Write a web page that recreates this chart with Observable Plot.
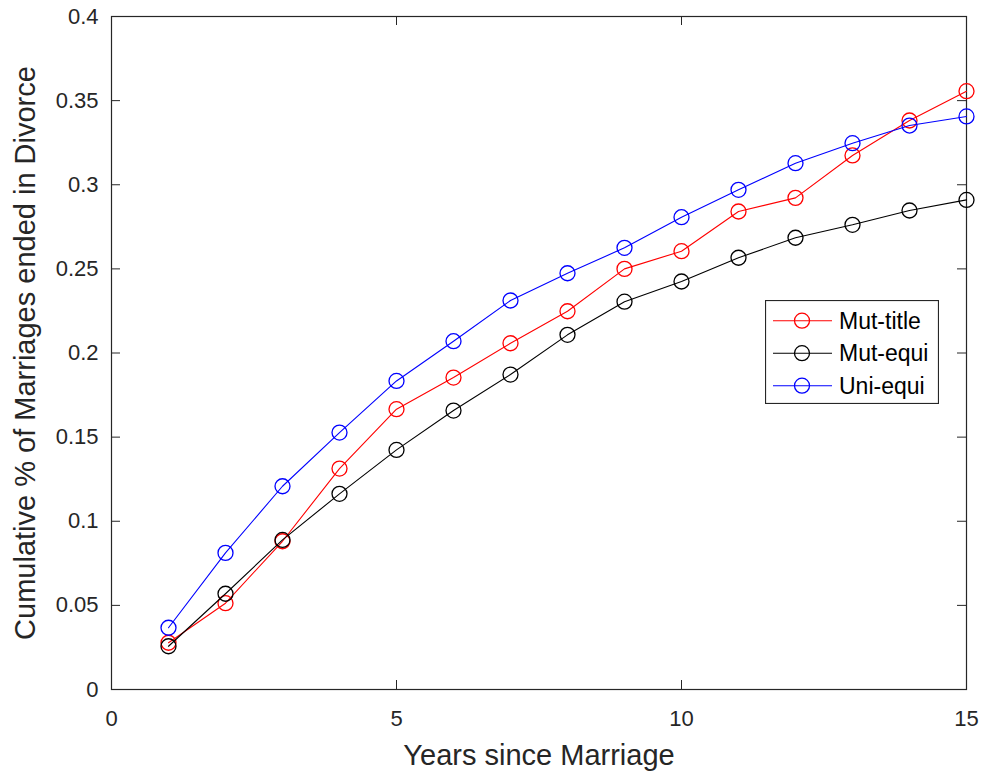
<!DOCTYPE html>
<html><head><meta charset="utf-8">
<script src="https://cdn.jsdelivr.net/npm/d3@7"></script>
<script src="https://cdn.jsdelivr.net/npm/@observablehq/plot@0.6"></script>
<style>
html,body{margin:0;padding:0;background:#fff;}
#wrap{position:relative;width:982px;height:776px;overflow:hidden;}
#legend{position:absolute;left:765px;top:300px;}
</style></head><body><div id="wrap"><div id="legend"></div></div>
<script>
const years = [1,2,3,4,5,6,7,8,9,10,11,12,13,14,15];
const mutTitle = [0.0278,0.0513,0.0881,0.1313,0.1666,0.1854,0.2058,0.2248,0.2500,0.2605,0.2841,0.2922,0.3174,0.3382,0.3556];
const mutEqui  = [0.0257,0.0569,0.0889,0.1163,0.1424,0.1658,0.1872,0.2108,0.2305,0.2425,0.2566,0.2685,0.2762,0.2847,0.2910];
const uniEqui  = [0.0367,0.0812,0.1208,0.1527,0.1834,0.2070,0.2312,0.2474,0.2625,0.2807,0.2970,0.3128,0.3247,0.3352,0.3406];
const seriesNames = ["Mut-title","Mut-equi","Uni-equi"];
const seriesColors = ["#ff0000","#000000","#0000ff"];
const xTicks = [0,5,10,15];
const yTicks = [0,0.05,0.1,0.15,0.2,0.25,0.3,0.35,0.4];
const yTickLabels = ["0","0.05","0.1","0.15","0.2","0.25","0.3","0.35","0.4"];
const xLabel = "Years since Marriage";
const yLabel = "Cumulative % of Marriages ended in Divorce";

const seriesValues = [mutTitle, mutEqui, uniEqui];
const rows = [];
seriesNames.forEach((name, i) => {
  years.forEach((yr, j) => rows.push({series: name, year: yr, value: seriesValues[i][j]}));
});

const W = 982, H = 776, mL = 111, mR = 16, mT = 16, mB = 87;
const innerW = W - mL - mR, innerH = H - mT - mB;
const tickLen = 9;
const axisColor = "#262626";

const seriesMarks = [];
seriesNames.forEach(name => {
  const d = rows.filter(r => r.series === name);
  seriesMarks.push(Plot.line(d, {x: "year", y: "value", stroke: "series", strokeWidth: 1.1}));
  seriesMarks.push(Plot.dot(d, {x: "year", y: "value", stroke: "series", r: 7.5, strokeWidth: 1.3, fill: "none"}));
});

const chart = Plot.plot({
  width: W, height: H,
  marginLeft: mL, marginRight: mR, marginTop: mT, marginBottom: mB,
  style: {fontFamily: "'Liberation Sans', Arial, Helvetica, sans-serif", fontSize: "22px", color: axisColor, background: "#fff", overflow: "visible"},
  x: {domain: [0, 15], ticks: xTicks, tickSize: 0, tickPadding: 21, label: null},
  y: {domain: [0, 0.4], ticks: yTicks, tickSize: 0, tickPadding: 13, label: null,
      tickFormat: d => yTickLabels[yTicks.indexOf(d)]},
  color: {domain: seriesNames, range: seriesColors},
  marks: [
    Plot.ruleX(xTicks, {x: d => d, stroke: axisColor, insetTop: innerH - tickLen}),
    Plot.ruleX(xTicks, {x: d => d, stroke: axisColor, insetBottom: innerH - tickLen}),
    Plot.ruleY(yTicks, {y: d => d, stroke: axisColor, insetRight: innerW - tickLen}),
    Plot.ruleY(yTicks, {y: d => d, stroke: axisColor, insetLeft: innerW - tickLen}),
    Plot.frame({stroke: axisColor, strokeWidth: 1.2}),
    ...seriesMarks,
    Plot.text([xLabel], {text: d => d, frameAnchor: "bottom", textAnchor: "middle", lineAnchor: "middle", dy: 66, fontSize: 29, fill: axisColor}),
    Plot.text([yLabel], {text: d => d, frameAnchor: "left", textAnchor: "middle", lineAnchor: "middle", rotate: -90, dx: -86, fontSize: 29, fill: axisColor})
  ]
});
document.getElementById("wrap").insertBefore(chart, document.getElementById("legend"));

// legend
const lw = 174, lh = 104;
const lg = d3.select("#legend").append("svg").attr("width", lw).attr("height", lh)
  .style("font-family", "'Liberation Sans', Arial, Helvetica, sans-serif");
lg.append("rect").attr("x", 0.5).attr("y", 0.5).attr("width", lw - 1).attr("height", lh - 1)
  .attr("fill", "#fff").attr("stroke", axisColor).attr("stroke-width", 1.2);
seriesNames.forEach((name, i) => {
  const cy = 20.7 + i * 32.5;
  lg.append("line").attr("x1", 8).attr("x2", 67).attr("y1", cy).attr("y2", cy)
    .attr("stroke", seriesColors[i]).attr("stroke-width", 1.1);
  lg.append("circle").attr("cx", 37).attr("cy", cy).attr("r", 7.5)
    .attr("fill", "none").attr("stroke", seriesColors[i]).attr("stroke-width", 1.3);
  lg.append("text").attr("x", 74).attr("y", cy).attr("dy", "0.36em")
    .attr("font-size", 23).attr("fill", "#000").text(name);
});
</script>
</body></html>
